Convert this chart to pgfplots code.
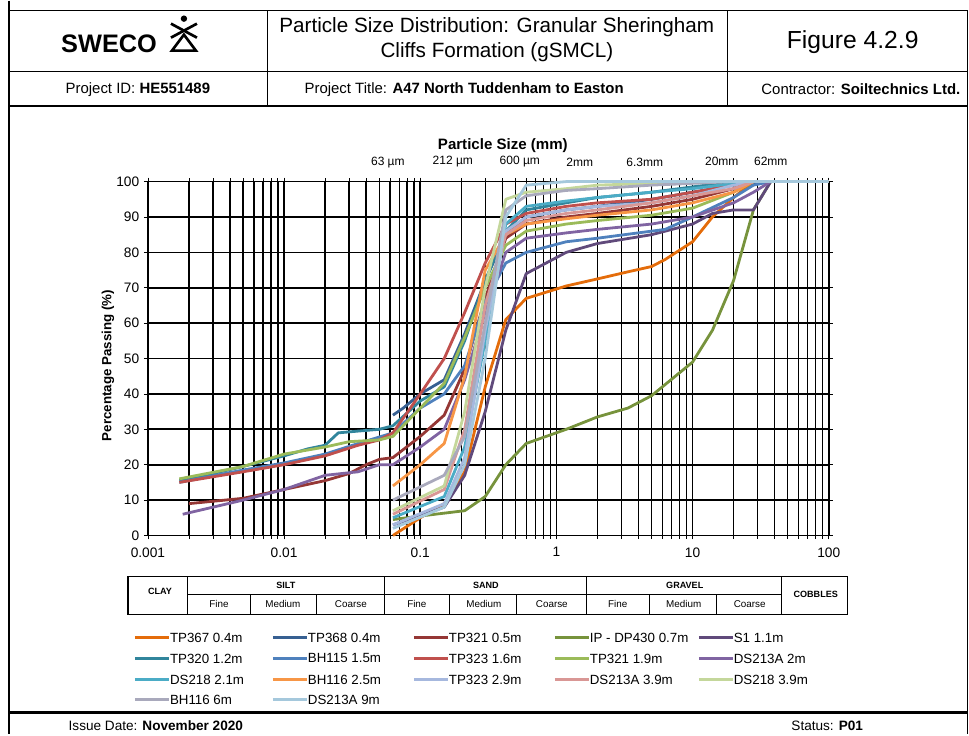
\documentclass[border=0pt]{standalone}
\usepackage{pgfplots}
\pgfplotsset{compat=1.18}
\usepackage{fontspec}
\setmainfont{Liberation Sans}
\definecolor{cA}{HTML}{E46C0A}
\definecolor{cB}{HTML}{376092}
\definecolor{cC}{HTML}{953735}
\definecolor{cD}{HTML}{77933C}
\definecolor{cE}{HTML}{604A7B}
\definecolor{cF}{HTML}{31859C}
\definecolor{cG}{HTML}{4F81BD}
\definecolor{cH}{HTML}{C0504D}
\definecolor{cI}{HTML}{9BBB59}
\definecolor{cJ}{HTML}{8064A2}
\definecolor{cK}{HTML}{4BACC6}
\definecolor{cL}{HTML}{F79646}
\definecolor{cM}{HTML}{A6B8DE}
\definecolor{cN}{HTML}{D99795}
\definecolor{cO}{HTML}{C4D79B}
\definecolor{cP}{HTML}{A9A9BC}
\definecolor{cQ}{HTML}{A5C8DC}
\newcommand{\legentry}[4]{\draw[#1, line width=2.4pt] (#2,#3) -- ++(34,0); \node[anchor=west, inner sep=0.6pt, font=\fontsize{10}{12}\selectfont] at (#2+34,#3) {#4};}
\begin{document}
\begin{tikzpicture}[x=0.75pt,y=0.75pt]
\path (0,0) rectangle (969,734);
% frame and header
\draw[line width=1pt] (9,724) -- (968,724);
\draw[line width=1pt] (9,734) -- (9,0);
\draw[line width=1pt] (968,724) -- (968,0);
\draw[line width=0.8pt] (9,663) -- (968,663);
\draw[line width=1.4pt] (9,629) -- (968,629);
\draw[line width=0.8pt] (268,724) -- (268,629);
\draw[line width=0.8pt] (728,724) -- (728,629);
\draw[line width=2pt] (9,22) -- (968,22);
% logo
\node[anchor=west, inner sep=0pt, font=\fontsize{19}{19}\selectfont\bfseries] at (61,691) {SWECO};
\fill (184,716) circle (3.2);
\draw[line width=2pt] (171,711) -- (197,697);
\draw[line width=2pt] (197,711) -- (171,697);
\draw[line width=2pt, line join=miter] (172,684) -- (196,684) -- (184,700) -- cycle;
% titles
\node[font=\fontsize{15.5}{17}\selectfont] at (497,707) {Particle Size Distribution: Granular Sheringham};
\node[font=\fontsize{15.5}{17}\selectfont] at (497,682) {Cliffs Formation (gSMCL)};
\node[font=\fontsize{18.5}{20}\selectfont] at (853,693) {Figure 4.2.9};
\node[anchor=west, font=\fontsize{11.2}{13}\selectfont] at (61,645) {Project ID: \textbf{HE551489}};
\node[anchor=west, font=\fontsize{11.2}{13}\selectfont] at (300,645) {Project Title: \textbf{A47 North Tuddenham to Easton}};
\node[anchor=west, font=\fontsize{11.2}{13}\selectfont] at (757,645) {Contractor: \textbf{Soiltechnics Ltd.}};
% footer
\node[anchor=west, font=\fontsize{10.2}{12}\selectfont] at (64,9) {Issue Date: \textbf{November 2020}};
\node[anchor=west, font=\fontsize{10.2}{12}\selectfont] at (787,9) {Status: \textbf{P01}};
% axis titles
\node[font=\fontsize{11.3}{13}\selectfont\bfseries] at (503,589) {Particle Size (mm)};
\node[rotate=90, font=\fontsize{10}{12}\selectfont\bfseries] at (108,369) {Percentage Passing (\%)};
\begin{scope}[font=\fontsize{9}{10}\selectfont]
\node at (388,572) {63 µm};
\node at (453,573) {212 µm};
\node at (520,573) {600 µm};
\node at (580,572) {2mm};
\node at (645,572) {6.3mm};
\node at (722,573) {20mm};
\node at (771,573) {62mm};
\end{scope}
\begin{axis}[
  at={(111pt,149.25pt)}, anchor=south west, scale only axis,
  width=510.75pt, height=265.5pt,
  xmode=log, log basis x=10,
  xmin=0.001, xmax=100, ymin=0, ymax=100,
  xtick={0.001,0.01,0.1,1,10,100},
  xticklabels={0.001,0.01,0.1,1,10,100},
  minor xtick={0.002,0.003,0.004,0.005,0.006,0.007,0.008,0.009,
    0.02,0.03,0.04,0.05,0.06,0.07,0.08,0.09,
    0.2,0.3,0.4,0.5,0.6,0.7,0.8,0.9,
    2,3,4,5,6,7,8,9,20,30,40,50,60,70,80,90},
  ytick={0,10,...,100},
  /pgf/number format/assume math mode=true,
  grid=both,
  major grid style={black, line width=1.3pt},
  minor grid style={black, line width=0.95pt},
  tick align=outside, major tick length=3pt, minor tick length=2.5pt,
  tick style={black, line width=0.6pt},
  axis line style={black, line width=1pt},
  ticklabel style={font=\fontsize{10.3}{12}\selectfont},
  xticklabel style={yshift=-2.5pt},
  clip=false,
  every axis plot/.append style={line width=2.1pt, no markers, line join=round},
]
\addplot[cA] coordinates {(0.063,0)(0.1,5)(0.15,9)(0.212,18)(0.3,42)(0.425,61)(0.6,67)(1.18,70.5)(2,72.5)(3.35,74.5)(5,76)(6.3,78)(10,83)(14,90)(20,95.5)(28,100)(100,100)};
\addplot[cB] coordinates {(0.063,34)(0.075,36)(0.1,40)(0.15,44)(0.212,57)(0.3,72)(0.425,85)(0.6,90)(1.18,92)(2,93)(5,95)(10,97)(20,99)(37.5,100)(100,100)};
\addplot[cC] coordinates {(0.002,9)(0.005,10.5)(0.01,13)(0.02,15.5)(0.03,17.5)(0.04,20)(0.05,21.5)(0.063,22)(0.1,28)(0.15,34)(0.212,47)(0.3,67)(0.425,84)(0.6,88)(1.18,90)(2,91)(5,93)(10,95)(20,98)(28,100)(100,100)};
\addplot[cD] coordinates {(0.063,4.5)(0.1,5.5)(0.212,7)(0.3,11)(0.425,20)(0.6,26)(1.18,30)(2,33.5)(3.35,36)(5,39.5)(10,49)(14,58)(20,72)(28,92)(37.5,100)(100,100)};
\addplot[cE] coordinates {(0.063,3)(0.15,8)(0.212,17)(0.3,35)(0.425,58)(0.6,74)(1.18,80)(2,82.5)(5,85)(10,88)(14,91)(20,92)(28,92)(37.5,100)(100,100)};
\addplot[cF] coordinates {(0.0017,15.5)(0.003,17.5)(0.005,19.5)(0.01,22.5)(0.015,24.5)(0.02,25.5)(0.025,29)(0.035,29.5)(0.05,30)(0.063,31)(0.1,38)(0.15,42)(0.212,55)(0.3,72)(0.425,86)(0.6,92)(1.18,94)(2,95.5)(5,97)(10,98.5)(20,100)(100,100)};
\addplot[cG] coordinates {(0.0017,15)(0.005,18.5)(0.01,20.5)(0.02,23)(0.035,26)(0.063,29)(0.1,36)(0.15,40)(0.212,48)(0.3,66)(0.425,77)(0.6,80)(1.18,83)(2,84)(5,86)(6.3,86.5)(10,90)(20,95.5)(28,99)(37.5,100)(100,100)};
\addplot[cH] coordinates {(0.0017,15)(0.005,18)(0.01,20)(0.02,22.5)(0.035,25.5)(0.05,27)(0.063,29)(0.1,40)(0.15,50)(0.212,63)(0.3,77)(0.425,88)(0.6,91)(1.18,93)(2,94)(5,95)(10,97)(20,99)(28,100)(100,100)};
\addplot[cI] coordinates {(0.0017,16)(0.005,19.5)(0.01,23)(0.02,25)(0.03,26.5)(0.05,27)(0.063,28)(0.1,36)(0.15,43)(0.212,56)(0.3,70)(0.425,82)(0.6,86)(1.18,88)(2,89)(5,90.5)(10,92.5)(20,97)(28,100)(100,100)};
\addplot[cJ] coordinates {(0.0018,6)(0.005,10)(0.01,13)(0.02,17)(0.035,18)(0.05,20)(0.063,20)(0.1,25)(0.15,30)(0.212,44)(0.3,63)(0.425,80)(0.6,84)(1.18,85.5)(2,86.5)(5,88)(10,90)(20,94)(28,97)(37.5,100)(100,100)};
\addplot[cK] coordinates {(0.063,5)(0.15,11)(0.212,25)(0.3,55)(0.425,88)(0.6,93)(1.18,94.5)(2,95.5)(5,97)(10,98)(20,99.5)(28,100)(100,100)};
\addplot[cL] coordinates {(0.063,14)(0.1,20)(0.15,26)(0.212,45)(0.3,75)(0.425,85)(0.6,88)(1.18,89.5)(2,90.5)(5,92)(10,94)(20,97)(28,100)(100,100)};
\addplot[cM] coordinates {(0.063,3)(0.15,9)(0.212,22)(0.3,58)(0.425,86)(0.6,90)(1.18,92)(2,93)(5,94)(10,96)(20,99)(28,100)(100,100)};
\addplot[cN] coordinates {(0.063,6)(0.15,13)(0.212,30)(0.3,65)(0.425,85)(0.6,89)(1.18,91)(2,92)(5,94)(10,96)(20,98)(28,100)(100,100)};
\addplot[cO] coordinates {(0.063,7)(0.15,14)(0.212,35)(0.3,70)(0.425,95)(0.6,97)(1.18,98)(2,99)(5,99.5)(10,100)(100,100)};
\addplot[cP] coordinates {(0.063,10)(0.15,17)(0.212,28)(0.3,60)(0.425,92)(0.6,96)(1.18,97.5)(2,98)(5,99)(10,99.5)(20,100)(100,100)};
\addplot[cQ] coordinates {(0.063,2)(0.15,8)(0.212,20)(0.3,50)(0.425,90)(0.6,99)(1.18,100)(100,100)};
\end{axis}
% classification table
\draw[line width=1.1pt] (128,158) rectangle (848,120);
\draw[line width=0.6pt] (188,140) -- (782,140);
\foreach \xx in {188,385,587,782} {\draw[line width=0.8pt] (\xx,158) -- (\xx,120);}
\foreach \xx in {250,317,450,517,650,717} {\draw[line width=0.6pt] (\xx,140) -- (\xx,120);}
\begin{scope}[font=\fontsize{6.8}{8}\selectfont\bfseries]
\node at (160,143) {CLAY};
\node at (286,149) {SILT};
\node at (486,149) {SAND};
\node at (685,149) {GRAVEL};
\node at (816,140) {COBBLES};
\end{scope}
\begin{scope}[font=\fontsize{7.4}{8}\selectfont]
\node at (219,130) {Fine};
\node at (283,130) {Medium};
\node at (351,130) {Coarse};
\node at (417,130) {Fine};
\node at (484,130) {Medium};
\node at (552,130) {Coarse};
\node at (618,130) {Fine};
\node at (684,130) {Medium};
\node at (750,130) {Coarse};
\end{scope}
% legend
\legentry{cA}{135}{97}{TP367 0.4m}
\legentry{cB}{273}{97}{TP368 0.4m}
\legentry{cC}{414}{97}{TP321 0.5m}
\legentry{cD}{555}{97}{IP - DP430 0.7m}
\legentry{cE}{699}{97}{S1 1.1m}
\legentry{cF}{135}{76}{TP320 1.2m}
\legentry{cG}{273}{76}{BH115 1.5m}
\legentry{cH}{414}{76}{TP323 1.6m}
\legentry{cI}{555}{76}{TP321 1.9m}
\legentry{cJ}{699}{76}{DS213A 2m}
\legentry{cK}{135}{55}{DS218 2.1m}
\legentry{cL}{273}{55}{BH116 2.5m}
\legentry{cM}{414}{55}{TP323 2.9m}
\legentry{cN}{555}{55}{DS213A 3.9m}
\legentry{cO}{699}{55}{DS218 3.9m}
\legentry{cP}{135}{35}{BH116 6m}
\legentry{cQ}{273}{35}{DS213A 9m}
\end{tikzpicture}
\end{document}
